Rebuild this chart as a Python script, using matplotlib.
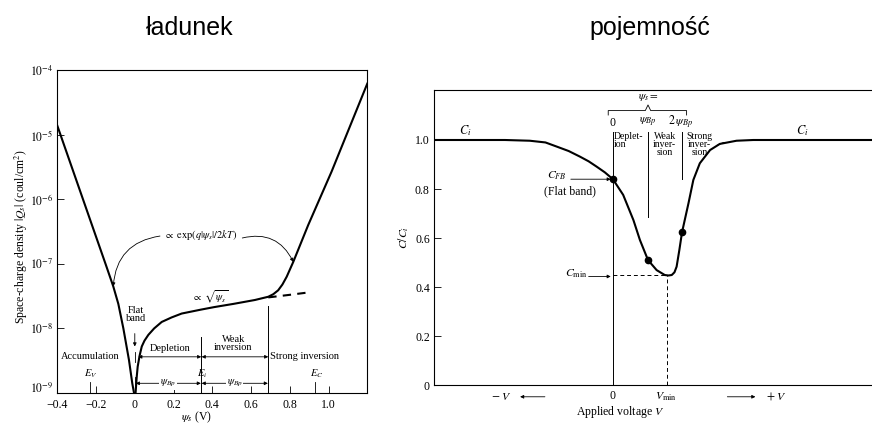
import matplotlib.pyplot as plt
import numpy as np
from matplotlib.transforms import ScaledTranslation

plt.rcParams['font.family'] = ['Liberation Serif', 'DejaVu Sans']
plt.rcParams['mathtext.fontset'] = 'stix'

# space-charge density, accumulation side (psi_s in V, log10 |Qs|)
acc_psi = [-0.40, -0.35, -0.30, -0.25, -0.20, -0.15, -0.111, -0.085, -0.059, -0.030, -0.013, -0.004]
acc_logq = [-4.86, -5.29, -5.72, -6.15, -6.58, -7.01, -7.35, -7.62, -8.0, -8.49, -8.85, -9.0]

# depletion / inversion side
inv_psi = [0.004, 0.010, 0.015, 0.025, 0.036, 0.05, 0.07, 0.10, 0.139, 0.19, 0.242, 0.34, 0.41,
           0.51, 0.62, 0.689, 0.715, 0.740, 0.762, 0.784, 0.818, 0.895, 1.016, 1.2]
inv_logq = [-9.0, -8.75, -8.59, -8.42, -8.28, -8.19, -8.10, -8.00, -7.90, -7.83, -7.77, -7.71, -7.67,
            -7.62, -7.56, -7.51, -7.47, -7.41, -7.32, -7.20, -6.97, -6.40, -5.57, -4.21]

# sqrt(psi_s) continuation (dashed)
dash_psi = [0.689, 0.80, 0.904]
dash_logq = [-7.52, -7.48, -7.44]

xticks1 = [-0.4, -0.2, 0.0, 0.2, 0.4, 0.6, 0.8, 1.0]
xlabels1 = ['\u22120.4', '\u22120.2', '0', '0.2', '0.4', '0.6', '0.8', '1.0']
ydecades = [-9, -8, -7, -6, -5, -4]

# C-V curve (applied voltage in units of V_min, C/C_i)
volt = [-3.32, -2.5, -2.0, -1.54, -1.25, -1.04, -0.82, -0.61, -0.45, -0.30, -0.15, 0.0, 0.19, 0.38,
        0.5, 0.65, 0.81, 0.96, 1.03, 1.09, 1.14, 1.18, 1.23, 1.28, 1.40, 1.49, 1.61, 1.80, 1.98, 2.29, 2.6, 4.8]
cap = [1.0, 1.0, 1.0, 0.997, 0.99, 0.973, 0.955, 0.932, 0.913, 0.891, 0.868, 0.84, 0.776, 0.673,
       0.592, 0.51, 0.469, 0.449, 0.447, 0.449, 0.46, 0.483, 0.55, 0.623, 0.742, 0.837, 0.905, 0.959, 0.984, 0.997, 1.0, 1.0]
dot_v = [0.0, 0.65, 1.28]
dot_c = [0.84, 0.51, 0.623]
yticks2 = [0, 0.2, 0.4, 0.6, 0.8, 1.0]
ylabels2 = ['0', '0.2', '0.4', '0.6', '0.8', '1.0']

fig = plt.figure(figsize=(8.72, 4.26), dpi=100)
ax1 = fig.add_axes([0.0657, 0.0775, 0.3555, 0.758])
ax2 = fig.add_axes([0.4977, 0.0962, 0.5023, 0.6925])

fig.text(190/872, 1-28/426, 'ładunek', ha='center', va='center', family='Liberation Sans', fontsize=18)
fig.text(650/872, 1-28/426, 'pojemność', ha='center', va='center', family='Liberation Sans', fontsize=18)

fs = 7.5
arr = dict(arrowstyle='-|>', lw=0.6, color='k', mutation_scale=5, shrinkA=0, shrinkB=0)
darr = dict(arrowstyle='<|-|>', lw=0.6, color='k', mutation_scale=5, shrinkA=0, shrinkB=0)

# ---- left panel: charge ----
ax1.set_yscale('log')
ax1.plot(acc_psi, 10**np.array(acc_logq), color='k', lw=1.5)
ax1.plot(inv_psi, 10**np.array(inv_logq), color='k', lw=1.5)
ax1.plot(dash_psi, 10**np.array(dash_logq), color='k', lw=1.5, dashes=(4, 3))
ax1.set_xlim(-0.4, 1.2)
ax1.set_ylim(1e-9, 1e-4)
ax1.set_xticks(xticks1)
ax1.set_xticklabels(xlabels1, fontsize=8.5)
ax1.set_yticks([10.0**d for d in ydecades])
ax1.set_yticklabels([r'$10^{%d}$' % d for d in ydecades], fontsize=8.5)
ax1.yaxis.set_minor_locator(plt.NullLocator())
ax1.tick_params(direction='in', length=5, width=0.6, pad=3)
ax1.tick_params(axis='x', pad=4)
# lift the bottom decade label a little, as in the original
lab = ax1.yaxis.get_major_ticks()[0].label1
lab.set_transform(lab.get_transform() + ScaledTranslation(0, 4/72, fig.dpi_scale_trans))
for s in ax1.spines.values():
    s.set_linewidth(0.8)
ax1.text(-0.115, 0.483, r'Space-charge density $|Q_s|$ (coul/cm$^2$)', rotation=90,
         ha='center', va='center', transform=ax1.transAxes, fontsize=8.5)
ax1.text(0.45, -0.075, r'$\psi_s$ (V)', ha='center', va='center', transform=ax1.transAxes, fontsize=8.5)

L = lambda v: 10.0**v
ax1.text(0.34, L(-6.55), r'$\propto\ \mathrm{exp}(q|\psi_s|/2kT)$', ha='center', va='center', fontsize=fs)
ax1.annotate('', xy=(-0.111, L(-7.35)), xytext=(0.13, L(-6.57)),
             arrowprops=dict(arr, connectionstyle='arc3,rad=0.4'))
ax1.annotate('', xy=(0.818, L(-6.97)), xytext=(0.555, L(-6.60)),
             arrowprops=dict(arr, connectionstyle='arc3,rad=-0.4'))
ax1.text(0.39, L(-7.50), r'$\propto\ \sqrt{\psi_s}$', ha='center', va='center', fontsize=fs)
ax1.text(0.005, L(-7.79), 'Flat\nband', ha='center', va='center', fontsize=fs, linespacing=0.85)
ax1.annotate('', xy=(0.0, L(-8.28)), xytext=(0.0, L(-8.08)), arrowprops=arr)
ax1.text(-0.231, L(-8.44), 'Accumulation', ha='center', va='center', fontsize=fs)
ax1.text(0.182, L(-8.31), 'Depletion', ha='center', va='center', fontsize=fs)
ax1.text(0.508, L(-8.23), 'Weak\ninversion', ha='center', va='center', fontsize=fs, linespacing=0.85)
ax1.text(0.878, L(-8.44), 'Strong inversion', ha='center', va='center', fontsize=fs)
ax1.plot([0.343, 0.343], [L(-8.13), L(-9)], color='k', lw=0.7)
ax1.plot([0.689, 0.689], [L(-7.66), L(-9)], color='k', lw=0.7)
ax1.plot([0.0, 0.0], [L(-8.36), L(-8.52)], color='k', lw=0.6)
ax1.plot([0.0, 0.0], [L(-8.76), L(-8.95)], color='k', lw=0.6)
ax1.annotate('', xy=(0.018, L(-8.44)), xytext=(0.343, L(-8.44)), arrowprops=darr)
ax1.annotate('', xy=(0.345, L(-8.44)), xytext=(0.689, L(-8.44)), arrowprops=darr)
ax1.annotate('', xy=(0.005, L(-8.85)), xytext=(0.341, L(-8.85)), arrowprops=darr)
ax1.annotate('', xy=(0.345, L(-8.85)), xytext=(0.687, L(-8.85)), arrowprops=darr)
for xm in [0.17, 0.515]:
    ax1.text(xm, L(-8.85), r'$\psi_{Bp}$', ha='center', va='center', fontsize=fs,
             bbox=dict(fc='white', ec='none', pad=0.6))
ax1.plot([-0.231, -0.231], [L(-8.83), L(-9)], color='k', lw=0.6)
ax1.plot([0.93, 0.93], [L(-8.83), L(-9)], color='k', lw=0.6)
ax1.text(-0.226, L(-8.70), r'$E_V$', ha='center', va='center', fontsize=fs)
ax1.text(0.348, L(-8.70), r'$E_i$', ha='center', va='center', fontsize=fs)
ax1.text(0.938, L(-8.70), r'$E_C$', ha='center', va='center', fontsize=fs)

# ---- right panel: capacitance ----
ax2.plot(volt, cap, color='k', lw=1.5)
ax2.plot(dot_v, dot_c, 'o', color='k', ms=4.5)
ax2.set_xlim(-3.315, 4.8)
ax2.set_ylim(0, 1.204)
ax2.set_xticks([])
ax2.set_yticks(yticks2)
ax2.set_yticklabels(ylabels2, fontsize=8.5)
ax2.tick_params(direction='in', length=5, width=0.6, pad=3)
ax2.spines['right'].set_visible(False)
for s in ax2.spines.values():
    s.set_linewidth(0.8)
ax2.text(-0.07, 0.50, r'$C/C_i$', rotation=90, ha='center', va='center', transform=ax2.transAxes, fontsize=8.5)

ax2.text(-2.74, 1.04, r'$C_i$', ha='center', va='center', fontsize=9)
ax2.text(3.5, 1.04, r'$C_i$', ha='center', va='center', fontsize=9)
ax2.text(-1.04, 0.855, r'$C_{FB}$', ha='center', va='center', fontsize=8.5)
ax2.annotate('', xy=(-0.04, 0.84), xytext=(-0.78, 0.84), arrowprops=arr)
ax2.text(-0.8, 0.79, '(Flat band)', ha='center', va='center', fontsize=8.5)
ax2.text(-0.67, 0.455, r'$C_{\rm min}$', ha='center', va='center', fontsize=8.5)
ax2.annotate('', xy=(-0.04, 0.443), xytext=(-0.45, 0.443), arrowprops=arr)
ax2.plot([0, 1], [0.45, 0.45], color='k', lw=0.7, dashes=(4, 3))
ax2.plot([1, 1], [0, 0.45], color='k', lw=0.7, dashes=(4, 3))
ax2.plot([0, 0], [0, 1.034], color='k', lw=0.7)
ax2.plot([0.65, 0.65], [0.687, 1.034], color='k', lw=0.7)
ax2.plot([1.28, 1.28], [0.84, 1.034], color='k', lw=0.7)
ax2.plot([-0.087, -0.087, 0.6, 0.65, 0.7, 1.365, 1.365],
         [1.102, 1.12, 1.12, 1.143, 1.12, 1.12, 1.102], color='k', lw=0.6)
ax2.text(0.65, 1.172, r'$\psi_s=$', ha='center', va='center', fontsize=8)
ax2.text(0.0, 1.07, '0', ha='center', va='center', fontsize=8.5)
ax2.text(0.65, 1.07, r'$\psi_{Bp}$', ha='center', va='center', fontsize=8.5)
ax2.text(1.25, 1.07, r'$2\,\psi_{Bp}$', ha='center', va='center', fontsize=8.5)
ax2.text(0.02, 1.034, 'Deplet-\nion', ha='left', va='top', fontsize=7, linespacing=0.85)
ax2.text(0.96, 1.034, 'Weak\ninver-\nsion', ha='center', va='top', fontsize=7, linespacing=0.85)
ax2.text(1.61, 1.034, 'Strong\ninver-\nsion', ha='center', va='top', fontsize=7, linespacing=0.85)
ax2.plot([1.93, 2.05], [0.978, 0.99], color='k', lw=0.6)

ax2.text(-2.06, -0.048, r'$-\ V$', ha='center', va='center', fontsize=8.5)
ax2.annotate('', xy=(-1.72, -0.048), xytext=(-1.26, -0.048), arrowprops=arr, annotation_clip=False)
ax2.text(0.0, -0.046, '0', ha='center', va='center', fontsize=8.5)
ax2.text(0.98, -0.048, r'$V_{\rm min}$', ha='center', va='center', fontsize=8.5)
ax2.annotate('', xy=(2.64, -0.048), xytext=(2.12, -0.048), arrowprops=arr, annotation_clip=False)
ax2.text(3.03, -0.048, r'$+\ V$', ha='center', va='center', fontsize=8.5)
ax2.text(0.13, -0.11, r'Applied voltage $V$', ha='center', va='center', fontsize=8.5)

fig.savefig('out.png', dpi=100)
